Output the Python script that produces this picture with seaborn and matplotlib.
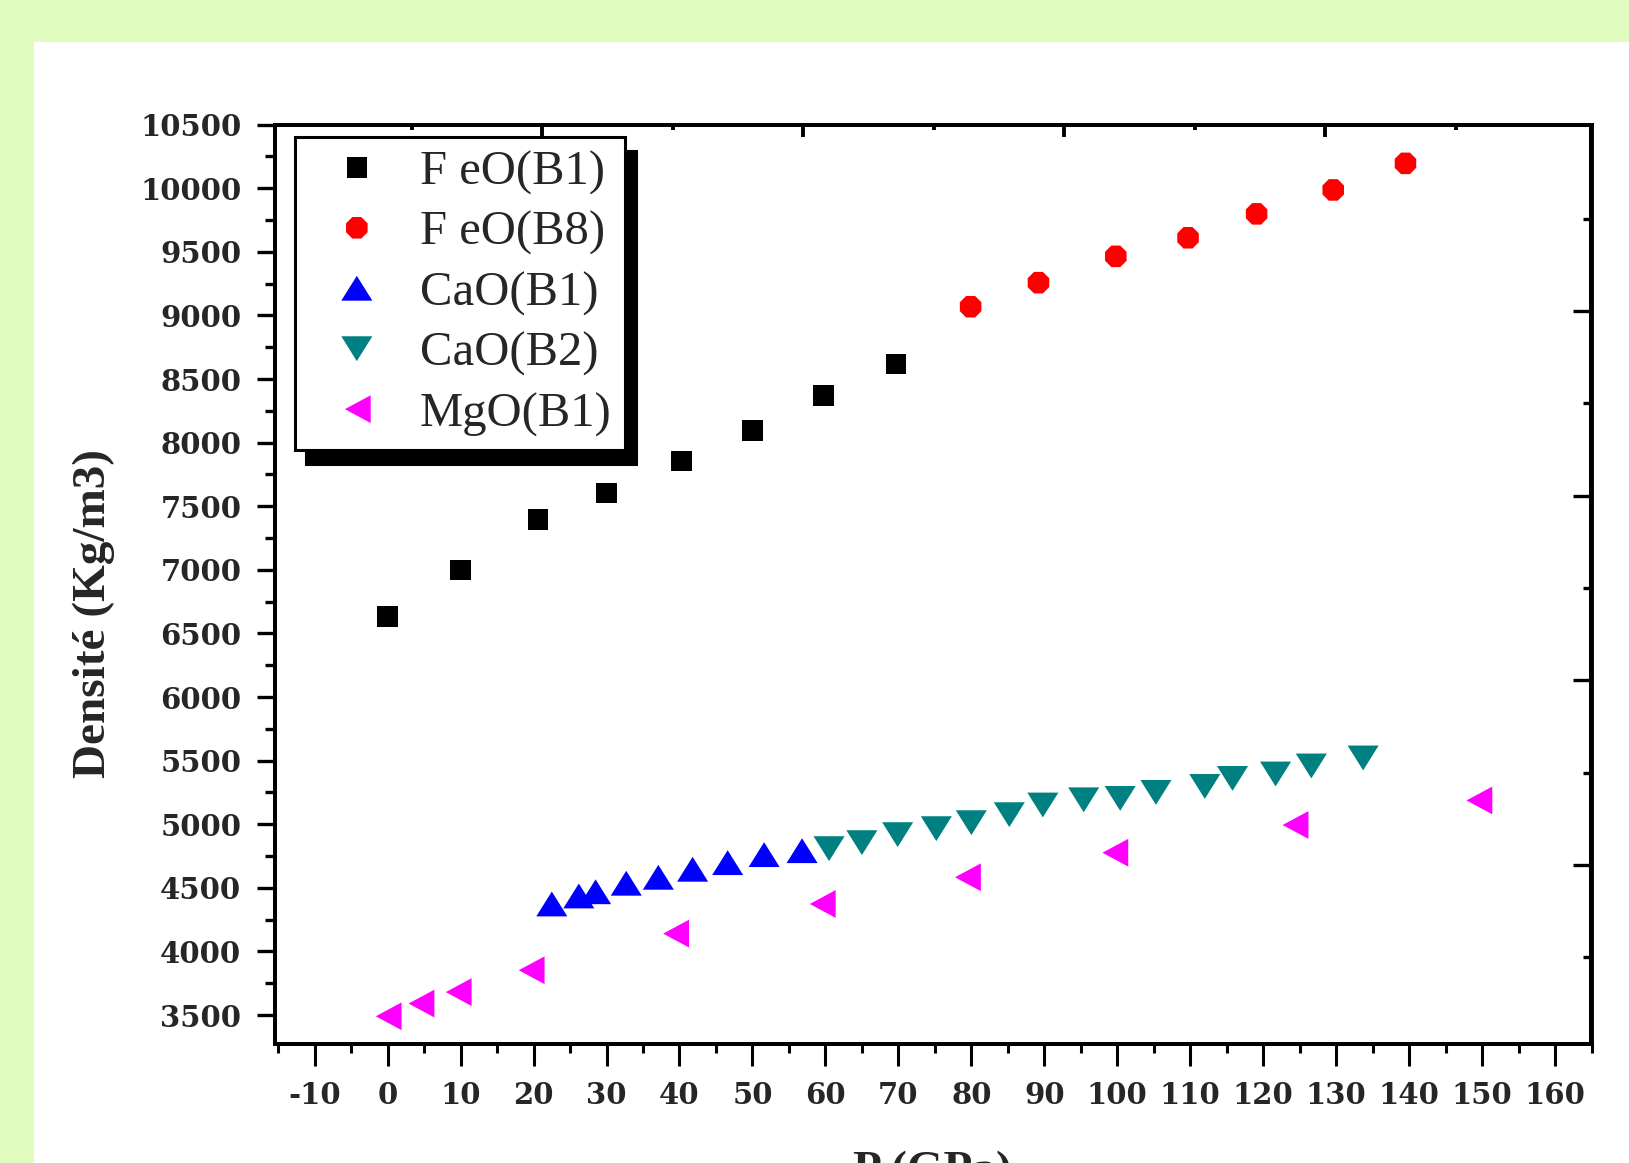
import numpy as np
import matplotlib
matplotlib.use("Agg")
import matplotlib.pyplot as plt
import seaborn as sns
from matplotlib.ticker import MultipleLocator, FixedLocator
from matplotlib.patches import Rectangle

# ---------------- data ----------------
feo_b1_p = [0, 10, 20.6, 30, 40.3, 50, 59.7, 69.7]
feo_b1_rho = [6632, 6999, 7398, 7604, 7856, 8097, 8369, 8620]

feo_b8_p = [79.9, 89.2, 99.8, 109.7, 119.1, 129.6, 139.5]
feo_b8_rho = [9069, 9258, 9465, 9611, 9799, 9987, 10196]

cao_b1_p = [22.5, 26.2, 28.5, 32.7, 37.1, 41.8, 46.6, 51.6, 56.8]
cao_b1_rho = [4373, 4436, 4469, 4536, 4583, 4646, 4698, 4761, 4792]

cao_b2_p = [60.5, 65.0, 69.9, 75.2, 80.0, 85.2, 89.8, 95.4, 100.4, 105.3,
            112.0, 115.8, 121.7, 126.6, 133.7]
cao_b2_rho = [4808, 4855, 4918, 4965, 5012, 5075, 5151, 5192, 5203, 5250,
              5297, 5360, 5395, 5458, 5521]

mgo_b1_p = [0, 4.5, 9.6, 19.6, 39.4, 59.5, 79.4, 99.6, 124.3, 149.5]
mgo_b1_rho = [3490, 3590, 3680, 3852, 4140, 4373, 4583, 4776, 4994, 5187]

labels = ["F eO(B1)", "F eO(B8)", "CaO(B1)", "CaO(B2)", "MgO(B1)"]
colors = ["#000000", "#ff0000", "#0000ff", "#008080", "#ff00ff"]

x_label = "P (GPa)"
y_label = "Densité (Kg/m3)"

# ---------------- style ----------------
sns.set_style("ticks")
plt.rcParams["font.family"] = ["DejaVu Serif", "DejaVu Sans"]
plt.rcParams["font.weight"] = "bold"
plt.rcParams["axes.unicode_minus"] = False

W, H = 1629, 1163
fig = plt.figure(figsize=(W / 100, H / 100), dpi=100)
fig.patch.set_facecolor("#e0fcbf")
fig.add_artist(Rectangle((34.3 / W, 0), 1, 1 - 41.5 / H, transform=fig.transFigure,
                         facecolor="white", edgecolor="none", zorder=-5))

ax_l, ax_r, ax_t, ax_b = 275.3, 1591.5, 124.7, 1044.0
ax = fig.add_axes([ax_l / W, (H - ax_b) / H, (ax_r - ax_l) / W, (ax_b - ax_t) / H])
ax.set_facecolor("white")

up_tri = np.array([(-1, -0.8), (1, -0.8), (0, 0.8), (-1, -0.8)])
dn_tri = np.array([(-1, 0.8), (1, 0.8), (0, -0.8), (-1, 0.8)])
lf_tri = np.array([(1, -1), (1, 1), (-0.86, 0), (1, -1)])

series = [
    (feo_b1_p, feo_b1_rho, "s", 219),
    (feo_b8_p, feo_b8_rho, "8", 282),
    (cao_b1_p, cao_b1_rho, up_tri, 500),
    (cao_b2_p, cao_b2_rho, dn_tri, 500),
    (mgo_b1_p, mgo_b1_rho, lf_tri, 400),
]
handles = []
for (px, py, mk, sz), lab, col in zip(series, labels, colors):
    sns.scatterplot(x=px, y=py, ax=ax, color=col, marker=mk, s=sz,
                    edgecolor="none", linewidth=0, zorder=3)
    handles.append(ax.collections[-1])

ax.set_xlim(-15.4, 165)
ax.set_ylim(3272, 10500)
ax.xaxis.set_major_locator(MultipleLocator(10))
ax.xaxis.set_minor_locator(MultipleLocator(5))
ax.yaxis.set_major_locator(MultipleLocator(500))
ax.yaxis.set_minor_locator(MultipleLocator(250))

# twin axes reproducing the independent top/right tick marks
ax2 = ax.twinx()
ax2.set_ylim(-0.970, 4.010)
ax2.yaxis.set_major_locator(FixedLocator([0, 1, 2, 3]))
ax2.yaxis.set_minor_locator(FixedLocator([-0.5, 0.5, 1.5, 2.5, 3.5]))
ax2.tick_params(axis="y", which="major", direction="in", length=12.7, width=2.4,
                labelright=False, right=True, color="black")
ax2.tick_params(axis="y", which="minor", direction="in", length=6, width=2.4,
                right=True, color="black")

ax3 = ax.twiny()
ax3.set_xlim(-1.023, 4.02)
ax3.xaxis.set_major_locator(FixedLocator([0, 1, 2, 3]))
ax3.xaxis.set_minor_locator(FixedLocator([-0.5, 0.5, 1.5, 2.5, 3.5]))
ax3.tick_params(axis="x", which="major", direction="in", length=8.5, width=2.8,
                labeltop=False, top=True, color="black")
ax3.tick_params(axis="x", which="minor", direction="in", length=3.6, width=2.8,
                top=True, color="black")

ax.tick_params(axis="x", which="major", direction="out", length=16, width=2.2,
               pad=11, labelsize=21, top=False, bottom=True, color="black")
ax.tick_params(axis="x", which="minor", direction="out", length=6.5, width=2.2,
               top=False, bottom=True, color="black")
ax.tick_params(axis="y", which="major", direction="out", length=13, width=2.4,
               pad=11.5, labelsize=21, right=False, left=True, color="black")
ax.tick_params(axis="y", which="minor", direction="out", length=7, width=2.4,
               right=False, left=True, color="black")

for a in (ax, ax2, ax3):
    for sp in a.spines.values():
        sp.set_linewidth(2.8)
        sp.set_color("black")
        sp.set_visible(True)

ax.set_xlabel(x_label, fontfamily="Liberation Serif", fontweight="bold", fontsize=34)
ax.xaxis.set_label_coords(0.499, -0.1164)
ax.set_ylabel(y_label, fontfamily="Liberation Serif", fontweight="bold", fontsize=34)
ax.yaxis.set_label_coords(-0.138, 0.468)
ax.yaxis.label.set_verticalalignment("center")

leg = ax.legend(handles, labels, loc="upper left",
                bbox_to_anchor=((294.6 - ax_l) / (ax_r - ax_l), (ax_b - 136.7) / (ax_b - ax_t)),
                borderaxespad=0, frameon=True, fancybox=False, framealpha=1,
                edgecolor="black", facecolor="white",
                shadow={"ox": 8, "oy": -10, "facecolor": "black",
                        "edgecolor": "black", "alpha": 1},
                prop={"family": "Liberation Serif", "size": 35, "weight": "normal"},
                borderpad=0.28, handlelength=2.0, handletextpad=0.3,
                labelspacing=0.33, scatterpoints=1, scatteryoffsets=[0.5])
leg.get_frame().set_linewidth(2.2)
leg.set_zorder(10)

fig.savefig("out.png", dpi=100, facecolor=fig.get_facecolor())
